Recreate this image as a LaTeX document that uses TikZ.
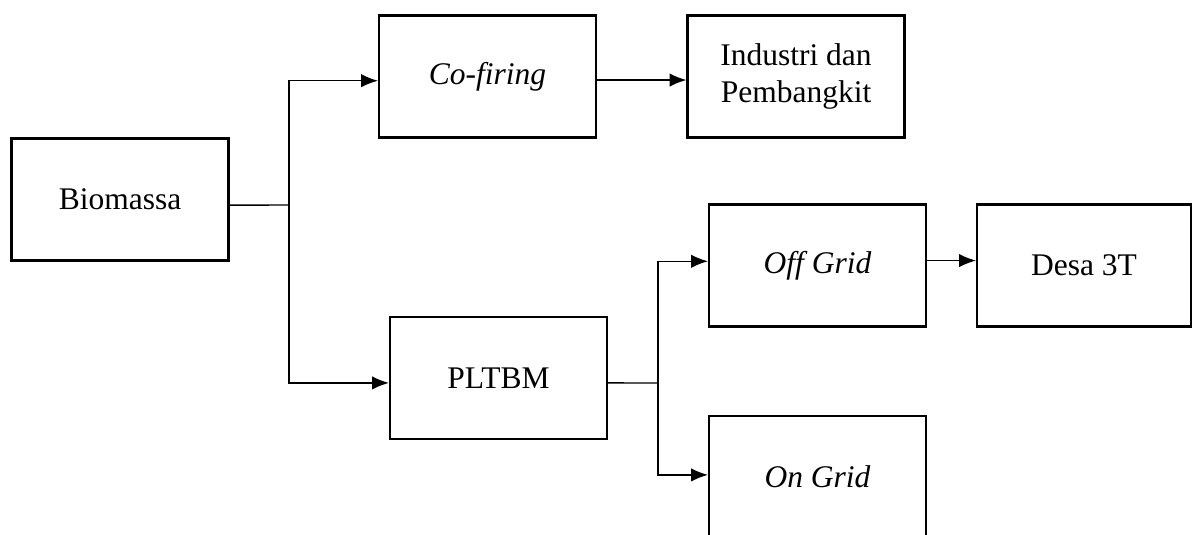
\documentclass[tikz,border=0pt]{standalone}
\usepackage{fontspec}
\setmainfont{Liberation Serif}
\usetikzlibrary{arrows.meta}

\tikzset{
  blok/.style={draw, line width=1.5pt, minimum width=217*0.711pt, minimum height=122*0.711pt,
    inner sep=0pt, align=center, font=\fontsize{22.4}{26.3}\selectfont},
  panah/.style={-{Latex[length=12pt,width=9.5pt]}, line width=1pt},
  garis/.style={line width=1pt}
}

\begin{document}
\begin{tikzpicture}[x=0.025cm,y=-0.025cm]
  \useasboundingbox (0,0) rectangle (1192,534);
  \clip (0,0) rectangle (1192,534);
  \node[blok] (bio) at (120,199.5) {Biomassa};
  \node[blok] (cof) at (487.5,76.5) {\textit{Co-firing}};
  \node[blok] (ind) at (796,76.5) {Industri dan\\Pembangkit};
  \node[blok] (pltbm) at (498.5,378) {PLTBM};
  \node[blok] (off) at (817.5,265.5) {\textit{Off Grid}};
  \node[blok, minimum width=214*0.711pt] (desa) at (1084,265.5) {Desa 3T};
  \node[blok] (on) at (817.5,477) {\textit{On Grid}};
  % cabang biomassa
  \coordinate (j1) at (289,205);
  \draw[garis] ([yshift=-4pt]bio.east) -- (j1);
  \draw[panah] (j1) |- ([yshift=-3pt]cof.west);
  \draw[panah] (j1) |- ([yshift=-3.5pt]pltbm.west);
  \draw[panah] ([yshift=-2.5pt]cof.east) -- ([yshift=-2.5pt]ind.west);
  % cabang PLTBM
  \coordinate (j2) at (658,383);
  \draw[garis] ([yshift=-3.5pt]pltbm.east) -- (j2);
  \draw[panah] (j2) |- ([yshift=3pt]off.west);
  \draw[panah] (j2) |- ([yshift=1.5pt]on.west);
  \draw[panah] ([yshift=3.5pt]off.east) -- ([yshift=3.5pt]desa.west);
\end{tikzpicture}
\end{document}
